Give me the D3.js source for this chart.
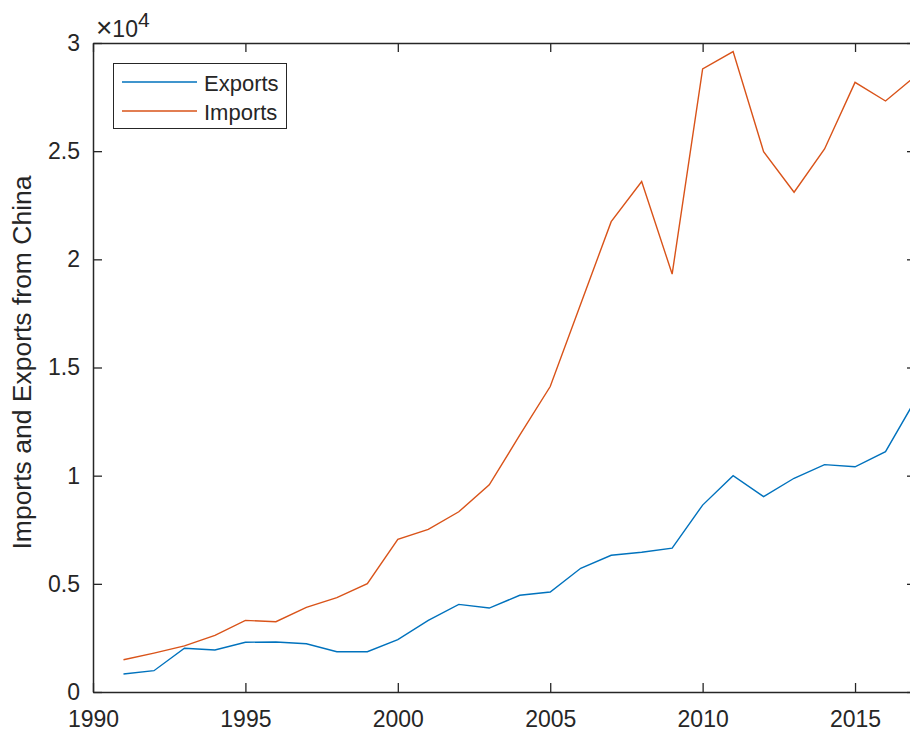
<!doctype html>
<html lang="en">
<head>
<meta charset="utf-8">
<title>imports and exports from china</title>
<script src="https://d3js.org/d3.v7.min.js"></script>
<style>
  body { margin: 0; background: #fff; }
  text { font-family: "Liberation Sans", Arial, sans-serif; fill: #262626; }
  .axis path, .axis line { stroke: #262626; }
</style>
</head>
<body>
<div id="chart"></div>
<script>
// values
var years = [1991, 1992, 1993, 1994, 1995, 1996, 1997, 1998, 1999, 2000,
             2001, 2002, 2003, 2004, 2005, 2006, 2007, 2008, 2009, 2010,
             2011, 2012, 2013, 2014, 2015, 2016, 2017];
var exportsVals = [830, 985, 2020, 1940, 2300, 2310, 2230, 1860, 1860, 2420,
                   3310, 4050, 3880, 4470, 4620, 5720, 6320, 6460, 6650, 8640,
                   10000, 9030, 9880, 10510, 10410, 11110, 13550];
var importsVals = [1490, 1800, 2130, 2620, 3310, 3250, 3910, 4360, 5010, 7060,
                   7520, 8330, 9580, 11870, 14120, 17940, 21740, 23600, 19320, 28800,
                   29600, 24980, 23100, 25100, 28180, 27320, 28490];
var xTicks = [1990, 1995, 2000, 2005, 2010, 2015];
var yTicks = [0, 5000, 10000, 15000, 20000, 25000, 30000];
var seriesNames = ["Exports", "Imports"];
var seriesColors = ["#0072BD", "#D95319"];

var width = 910, height = 736;
var plotLeft = 93, plotTop = 43, plotRight = 916, plotBottom = 692;

var svg = d3.select("#chart").append("svg")
  .attr("width", width)
  .attr("height", height);

var x = d3.scaleLinear().domain([1990, 2017]).range([plotLeft, plotRight]);
var y = d3.scaleLinear().domain([0, 30000]).range([plotBottom, plotTop]);

// lines first, axes drawn over them
var line = d3.line()
  .x(function (d) { return x(d[0]); })
  .y(function (d) { return y(d[1]); });

[exportsVals, importsVals].forEach(function (vals, i) {
  svg.append("path")
    .datum(years.map(function (yr, j) { return [yr, vals[j]]; }))
    .attr("d", line)
    .attr("fill", "none")
    .attr("stroke", seriesColors[i])
    .attr("stroke-width", 1.4);
});

svg.append("g").attr("class", "axis")
  .attr("transform", "translate(0," + plotBottom + ")")
  .call(d3.axisBottom(x).tickValues(xTicks).tickFormat(d3.format("d"))
    .tickSizeInner(-9).tickSizeOuter(0).tickPadding(19));
svg.append("g").attr("class", "axis")
  .attr("transform", "translate(" + plotLeft + ",0)")
  .call(d3.axisLeft(y).tickValues(yTicks)
    .tickFormat(function (d) { return String(d / 10000); })
    .tickSizeInner(-9).tickSizeOuter(0).tickPadding(13));
svg.append("g").attr("class", "axis")
  .attr("transform", "translate(0," + plotTop + ")")
  .call(d3.axisTop(x).tickValues(xTicks).tickFormat("")
    .tickSizeInner(-9).tickSizeOuter(0));
svg.append("g").attr("class", "axis")
  .attr("transform", "translate(" + plotRight + ",0)")
  .call(d3.axisRight(y).tickValues(yTicks).tickFormat("")
    .tickSizeInner(-9).tickSizeOuter(0));

svg.selectAll(".axis path").attr("stroke-width", 1.5);
svg.selectAll(".axis line").attr("stroke-width", 1.3);
svg.selectAll(".axis text")
  .style("font-size", "23px")
  .style("font-family", "'Liberation Sans', Arial, sans-serif")
  .attr("fill", "#262626");

// exponent
var expo = svg.append("text")
  .attr("x", 96).attr("y", 36.5)
  .style("font-size", "23px");
expo.append("tspan").style("font-size", "28px").text("\u00d7");
expo.append("tspan").text("10");
expo.append("tspan").attr("dy", -10).style("font-size", "21px").text("4");

// y label
svg.append("text")
  .attr("transform", "translate(31," + ((plotTop + plotBottom) / 2 - 5) + ") rotate(-90)")
  .attr("text-anchor", "middle")
  .style("font-size", "26.5px")
  .text("Imports and Exports from China");

// legend
var legend = svg.append("g");
legend.append("rect")
  .attr("x", 113.5).attr("y", 63.5)
  .attr("width", 173).attr("height", 65)
  .attr("fill", "#fff")
  .attr("stroke", "#262626")
  .attr("stroke-width", 1);
seriesNames.forEach(function (name, i) {
  var ly = 82 + i * 29;
  legend.append("line")
    .attr("x1", 122).attr("x2", 197)
    .attr("y1", ly).attr("y2", ly)
    .attr("stroke", seriesColors[i])
    .attr("stroke-width", 1.4);
  legend.append("text")
    .attr("x", 204).attr("y", ly + 8.5)
    .style("font-size", "22px")
    .text(name);
});
</script>
</body>
</html>
